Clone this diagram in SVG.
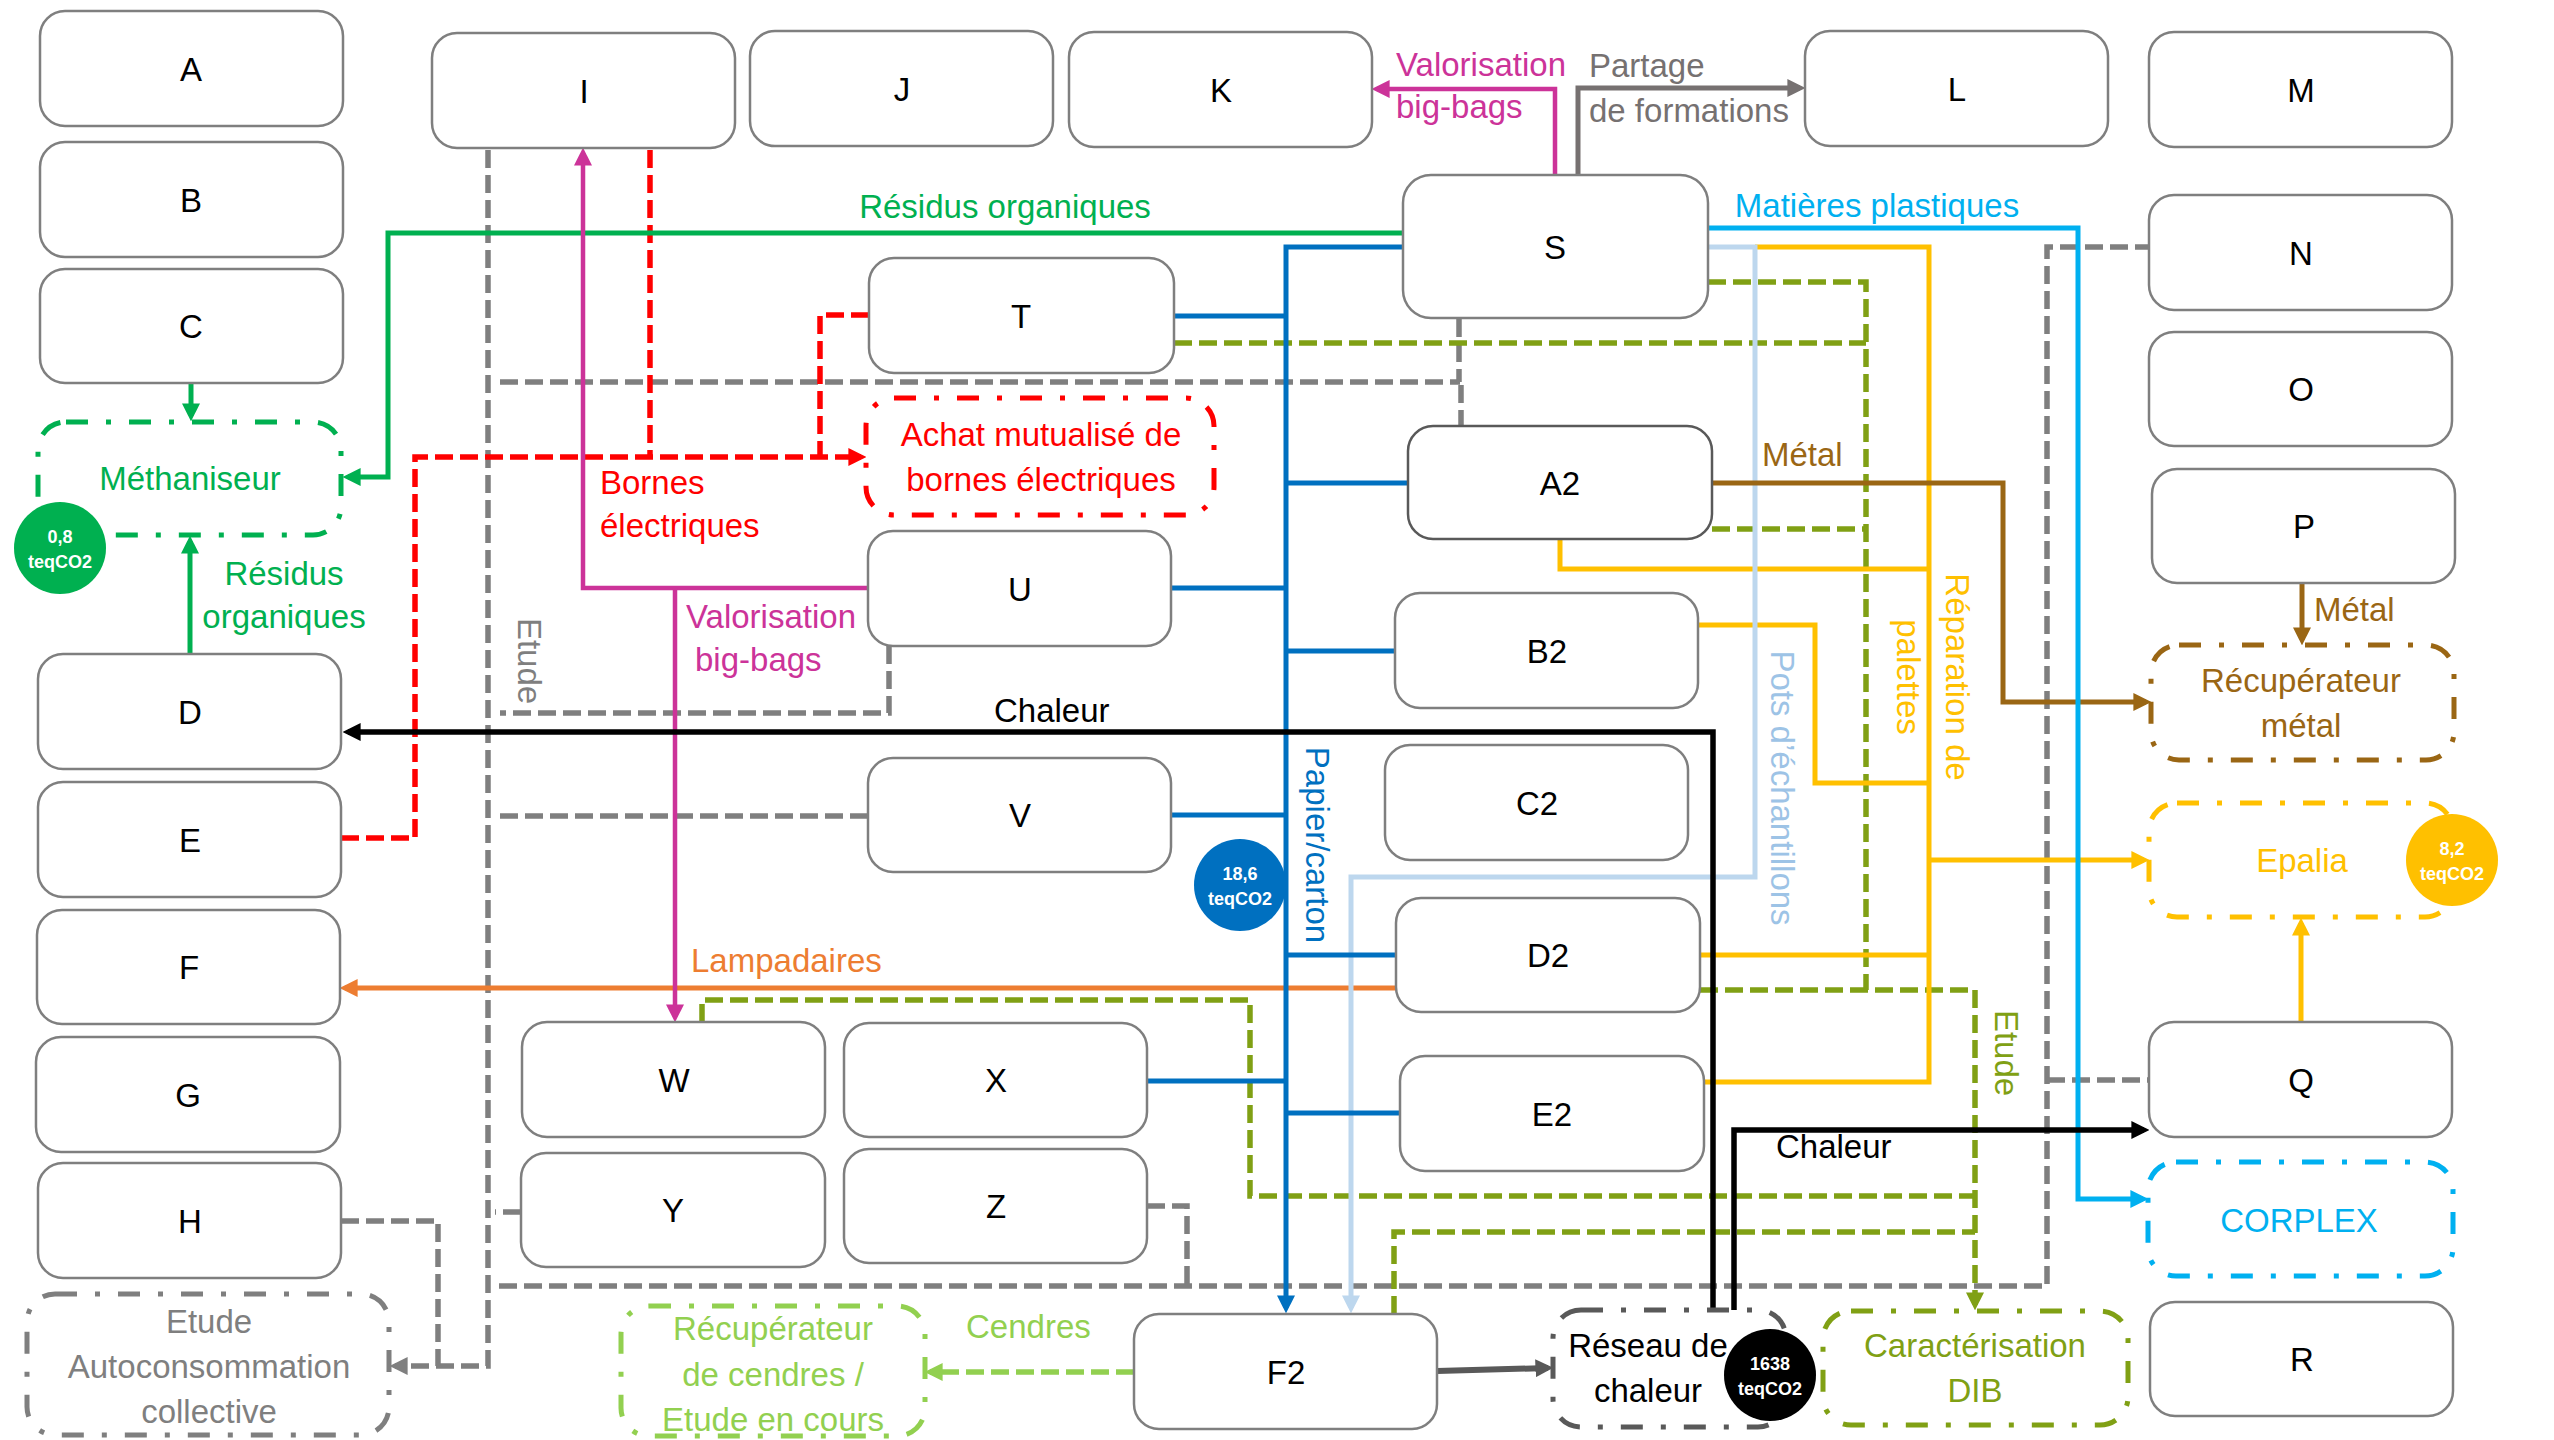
<svg xmlns="http://www.w3.org/2000/svg" width="2554" height="1440" viewBox="0 0 2554 1440">
<style>
text{font-family:"Liberation Sans",Arial,sans-serif;font-size:33px}
.n rect{fill:#fff;stroke:#7F7F7F;stroke-width:2.5}
.n text{text-anchor:middle;fill:#000}
.c{fill:none;stroke-linejoin:miter}
.sol{stroke-width:5}
.dsh{stroke-width:5.5;stroke-dasharray:18 7}
.dd{fill:#fff;stroke-width:5;stroke-dasharray:22 18 5 18}
.mid{text-anchor:middle}
.ct{fill:#fff;font-weight:bold;font-size:18px;text-anchor:middle}
</style>
<defs>
<marker id="mGreen" viewBox="0 0 10 10" refX="7" refY="5" markerWidth="18" markerHeight="18" markerUnits="userSpaceOnUse" orient="auto"><path d="M0,0L10,5L0,10z" fill="#00B050"/></marker>
<marker id="mBlue" viewBox="0 0 10 10" refX="7" refY="5" markerWidth="18" markerHeight="18" markerUnits="userSpaceOnUse" orient="auto"><path d="M0,0L10,5L0,10z" fill="#0070C0"/></marker>
<marker id="mLBlue" viewBox="0 0 10 10" refX="7" refY="5" markerWidth="18" markerHeight="18" markerUnits="userSpaceOnUse" orient="auto"><path d="M0,0L10,5L0,10z" fill="#BDD7EE"/></marker>
<marker id="mYellow" viewBox="0 0 10 10" refX="7" refY="5" markerWidth="18" markerHeight="18" markerUnits="userSpaceOnUse" orient="auto"><path d="M0,0L10,5L0,10z" fill="#FFC000"/></marker>
<marker id="mBrown" viewBox="0 0 10 10" refX="7" refY="5" markerWidth="18" markerHeight="18" markerUnits="userSpaceOnUse" orient="auto"><path d="M0,0L10,5L0,10z" fill="#9A6614"/></marker>
<marker id="mCyan" viewBox="0 0 10 10" refX="7" refY="5" markerWidth="18" markerHeight="18" markerUnits="userSpaceOnUse" orient="auto"><path d="M0,0L10,5L0,10z" fill="#00B0F0"/></marker>
<marker id="mBlack" viewBox="0 0 10 10" refX="7" refY="5" markerWidth="18" markerHeight="18" markerUnits="userSpaceOnUse" orient="auto"><path d="M0,0L10,5L0,10z" fill="#000"/></marker>
<marker id="mDGray" viewBox="0 0 10 10" refX="7" refY="5" markerWidth="18" markerHeight="18" markerUnits="userSpaceOnUse" orient="auto"><path d="M0,0L10,5L0,10z" fill="#595959"/></marker>
<marker id="mLGreen" viewBox="0 0 10 10" refX="7" refY="5" markerWidth="18" markerHeight="18" markerUnits="userSpaceOnUse" orient="auto"><path d="M0,0L10,5L0,10z" fill="#92D050"/></marker>
<marker id="mMag" viewBox="0 0 10 10" refX="7" refY="5" markerWidth="18" markerHeight="18" markerUnits="userSpaceOnUse" orient="auto"><path d="M0,0L10,5L0,10z" fill="#CC3399"/></marker>
<marker id="mPart" viewBox="0 0 10 10" refX="7" refY="5" markerWidth="18" markerHeight="18" markerUnits="userSpaceOnUse" orient="auto"><path d="M0,0L10,5L0,10z" fill="#767171"/></marker>
<marker id="mRed" viewBox="0 0 10 10" refX="7" refY="5" markerWidth="18" markerHeight="18" markerUnits="userSpaceOnUse" orient="auto"><path d="M0,0L10,5L0,10z" fill="#FF0000"/></marker>
<marker id="mGray" viewBox="0 0 10 10" refX="7" refY="5" markerWidth="18" markerHeight="18" markerUnits="userSpaceOnUse" orient="auto"><path d="M0,0L10,5L0,10z" fill="#7F7F7F"/></marker>
<marker id="mOlive" viewBox="0 0 10 10" refX="7" refY="5" markerWidth="18" markerHeight="18" markerUnits="userSpaceOnUse" orient="auto"><path d="M0,0L10,5L0,10z" fill="#80A014"/></marker>
<marker id="mOrange" viewBox="0 0 10 10" refX="7" refY="5" markerWidth="18" markerHeight="18" markerUnits="userSpaceOnUse" orient="auto"><path d="M0,0L10,5L0,10z" fill="#ED7D31"/></marker>
</defs>
<rect width="2554" height="1440" fill="#fff"/>

<g id="connectors">
<!-- gray dashed "Etude" network -->
<g class="c dsh" stroke="#7F7F7F">
<path d="M488,150V1366H395" marker-end="url(#mGray)"/>
<path d="M341,1221H438V1366"/>
<path d="M500,382H1460"/>
<path d="M1459,319V382M1461,385V426"/>
<path d="M889,646V713H500"/>
<path d="M868,816H498"/>
<path d="M521,1212H495"/>
<path d="M499,1286H2047V247H2149"/>
<path d="M2047,1080H2149"/>
<path d="M1147,1206H1187V1286"/>
</g>
<!-- olive dashed -->
<g class="c dsh" stroke="#80A014">
<path d="M1708,282H1866V990"/>
<path d="M1174,343H1866"/>
<path d="M1712,529H1866"/>
<path d="M1700,990H1975V1305" marker-end="url(#mOlive)"/>
<path d="M702,1022V1000H1250V1196H1975"/>
<path d="M1394,1314V1232H1975"/>
</g>
<!-- red dashed -->
<g class="c dsh" stroke="#FF0000">
<path d="M650,150V457"/>
<path d="M341,838H415V457H861" marker-end="url(#mRed)"/>
<path d="M869,315H820V457"/>
</g>
<!-- light green dashed -->
<path class="c dsh" stroke="#92D050" d="M1134,1372H930" marker-end="url(#mLGreen)"/>
<!-- orange -->
<path class="c sol" stroke="#ED7D31" d="M1396,988H345" marker-end="url(#mOrange)"/>
<!-- green solid -->
<g class="c sol" stroke="#00B050">
<path d="M1403,233H388V477H348" marker-end="url(#mGreen)"/>
<path d="M191,383V416" marker-end="url(#mGreen)"/>
<path d="M190,654V541" marker-end="url(#mGreen)"/>
</g>
<!-- magenta -->
<g class="c" stroke="#CC3399" stroke-width="4.5">
<path d="M1555,175V89H1377" marker-end="url(#mMag)"/>
<path d="M868,588H583V153" marker-end="url(#mMag)"/>
<path d="M675,588V1017" marker-end="url(#mMag)"/>
</g>
<!-- partage -->
<path class="c sol" stroke="#767171" d="M1578,175V88H1800" marker-end="url(#mPart)"/>
<!-- yellow -->
<g class="c sol" stroke="#FFC000">
<path d="M1755,247H1929V1082H1704"/>
<path d="M1560,539V569H1929"/>
<path d="M1698,625H1815V783H1929"/>
<path d="M1929,860H2144" marker-end="url(#mYellow)"/>
<path d="M1700,955H1929"/>
<path d="M2301,1022V923" marker-end="url(#mYellow)"/>
</g>
<!-- light blue -->
<path class="c sol" stroke="#BDD7EE" d="M1708,247H1755V877H1351V1308" marker-end="url(#mLBlue)"/>
<!-- blue -->
<g class="c sol" stroke="#0070C0">
<path d="M1403,247H1286V1308" marker-end="url(#mBlue)"/>
<path d="M1174,316H1286M1408,483H1286M1171,588H1286M1395,651H1286M1171,815H1286M1396,955H1286M1147,1081H1286M1400,1113H1286"/>
</g>
<!-- brown -->
<g class="c sol" stroke="#9A6614">
<path d="M1712,483H2003V702H2146" marker-end="url(#mBrown)"/>
<path d="M2302,583V640" marker-end="url(#mBrown)"/>
</g>
<!-- cyan -->
<path class="c sol" stroke="#00B0F0" d="M1708,228H2078V1199H2143" marker-end="url(#mCyan)"/>
<!-- black chaleur -->
<g class="c" stroke="#000" stroke-width="5.5">
<path d="M1713,1310V732H348" marker-end="url(#mBlack)"/>
<path d="M1734,1310V1130H2144" marker-end="url(#mBlack)"/>
</g>
<!-- F2 to reseau -->
<path class="c" stroke="#595959" stroke-width="6" d="M1437,1371L1548,1368" marker-end="url(#mDGray)"/>
</g>

<g id="connector-labels">
<text x="1005" y="218" class="mid" fill="#00B050">Résidus organiques</text>
<text x="1877" y="217" class="mid" fill="#00B0F0">Matières plastiques</text>
<text x="1396" y="76" fill="#CC3399">Valorisation</text>
<text x="1396" y="118" fill="#CC3399">big-bags</text>
<text x="1589" y="77" fill="#767171">Partage</text>
<text x="1589" y="122" fill="#767171">de formations</text>
<text x="600" y="494" fill="#FF0000">Bornes</text>
<text x="600" y="537" fill="#FF0000">électriques</text>
<text x="686" y="628" fill="#CC3399">Valorisation</text>
<text x="695" y="671" fill="#CC3399">big-bags</text>
<text x="284" y="585" class="mid" fill="#00B050">Résidus</text>
<text x="284" y="628" class="mid" fill="#00B050">organiques</text>
<text x="994" y="722" fill="#000">Chaleur</text>
<text x="1776" y="1158" fill="#000">Chaleur</text>
<text x="1762" y="466" fill="#9A6614">Métal</text>
<text x="2314" y="621" fill="#9A6614">Métal</text>
<text x="691" y="972" fill="#ED7D31">Lampadaires</text>
<text x="966" y="1338" fill="#92D050">Cendres</text>
<text class="mid" fill="#7F7F7F" transform="translate(518,661) rotate(90)">Etude</text>
<text class="mid" fill="#0070C0" transform="translate(1306,845) rotate(90)">Papier/carton</text>
<text class="mid" fill="#9DC3E6" font-size="34" transform="translate(1771,788) rotate(90)">Pots d’échantillons</text>
<text class="mid" fill="#FFC000" transform="translate(1946,677) rotate(90)">Réparation de</text>
<text class="mid" fill="#FFC000" transform="translate(1897,677) rotate(90)">palettes</text>
<text class="mid" fill="#80A014" transform="translate(1995,1053) rotate(90)">Etude</text>
</g>

<g id="node-A" class="n"><rect x="40" y="11" width="303" height="115" rx="25"/><text x="191" y="81">A</text></g>
<g id="node-B" class="n"><rect x="40" y="142" width="303" height="115" rx="25"/><text x="191" y="212">B</text></g>
<g id="node-C" class="n"><rect x="40" y="269" width="303" height="114" rx="25"/><text x="191" y="338">C</text></g>
<g id="node-D" class="n"><rect x="38" y="654" width="303" height="115" rx="25"/><text x="190" y="724">D</text></g>
<g id="node-E" class="n"><rect x="38" y="782" width="303" height="115" rx="25"/><text x="190" y="852">E</text></g>
<g id="node-F" class="n"><rect x="37" y="910" width="303" height="114" rx="25"/><text x="189" y="979">F</text></g>
<g id="node-G" class="n"><rect x="36" y="1037" width="304" height="115" rx="25"/><text x="188" y="1107">G</text></g>
<g id="node-H" class="n"><rect x="38" y="1163" width="303" height="115" rx="25"/><text x="190" y="1233">H</text></g>
<g id="node-I" class="n"><rect x="432" y="33" width="303" height="115" rx="25"/><text x="584" y="103">I</text></g>
<g id="node-J" class="n"><rect x="750" y="31" width="303" height="115" rx="25"/><text x="902" y="101">J</text></g>
<g id="node-K" class="n"><rect x="1069" y="32" width="303" height="115" rx="25"/><text x="1221" y="102">K</text></g>
<g id="node-L" class="n"><rect x="1805" y="31" width="303" height="115" rx="25"/><text x="1957" y="101">L</text></g>
<g id="node-M" class="n"><rect x="2149" y="32" width="303" height="115" rx="25"/><text x="2301" y="102">M</text></g>
<g id="node-N" class="n"><rect x="2149" y="195" width="303" height="115" rx="25"/><text x="2301" y="265">N</text></g>
<g id="node-O" class="n"><rect x="2149" y="332" width="303" height="114" rx="25"/><text x="2301" y="401">O</text></g>
<g id="node-P" class="n"><rect x="2152" y="469" width="303" height="114" rx="25"/><text x="2304" y="538">P</text></g>
<g id="node-Q" class="n"><rect x="2149" y="1022" width="303" height="115" rx="25"/><text x="2301" y="1092">Q</text></g>
<g id="node-R" class="n"><rect x="2150" y="1302" width="303" height="114" rx="25"/><text x="2302" y="1371">R</text></g>
<g id="node-S" class="n"><rect x="1403" y="175" width="305" height="143" rx="28"/><text x="1555" y="259">S</text></g>
<g id="node-T" class="n"><rect x="869" y="258" width="305" height="115" rx="25"/><text x="1021" y="328">T</text></g>
<g id="node-U" class="n"><rect x="868" y="531" width="303" height="115" rx="25"/><text x="1020" y="601">U</text></g>
<g id="node-V" class="n"><rect x="868" y="758" width="303" height="114" rx="25"/><text x="1020" y="827">V</text></g>
<g id="node-A2" class="n"><rect x="1408" y="426" width="304" height="113" rx="25" style="stroke:#595959"/><text x="1560" y="495">A2</text></g>
<g id="node-B2" class="n"><rect x="1395" y="593" width="303" height="115" rx="25"/><text x="1547" y="663">B2</text></g>
<g id="node-C2" class="n"><rect x="1385" y="745" width="303" height="115" rx="25"/><text x="1537" y="815">C2</text></g>
<g id="node-D2" class="n"><rect x="1396" y="898" width="304" height="114" rx="25"/><text x="1548" y="967">D2</text></g>
<g id="node-E2" class="n"><rect x="1400" y="1056" width="304" height="115" rx="25"/><text x="1552" y="1126">E2</text></g>
<g id="node-F2" class="n"><rect x="1134" y="1314" width="303" height="115" rx="25"/><text x="1286" y="1384">F2</text></g>
<g id="node-W" class="n"><rect x="522" y="1022" width="303" height="115" rx="25"/><text x="674" y="1092">W</text></g>
<g id="node-X" class="n"><rect x="844" y="1023" width="303" height="114" rx="25"/><text x="996" y="1092">X</text></g>
<g id="node-Y" class="n"><rect x="521" y="1153" width="304" height="114" rx="25"/><text x="673" y="1222">Y</text></g>
<g id="node-Z" class="n"><rect x="844" y="1149" width="303" height="114" rx="25"/><text x="996" y="1218">Z</text></g>

<g id="node-methaniseur"><rect class="dd" x="38" y="422" width="303" height="113" rx="28" stroke="#00B050"/><text x="190" y="490" class="mid" fill="#00B050">Méthaniseur</text>
<circle cx="60" cy="548" r="46" fill="#00B050"/><text class="ct" x="60" y="543">0,8</text><text class="ct" x="60" y="568">teqCO2</text></g>
<g id="node-achat"><rect class="dd" x="866" y="398" width="348" height="117" rx="28" stroke="#FF0000"/><text x="1041" y="446" class="mid" fill="#FF0000">Achat mutualisé de</text><text x="1041" y="491" class="mid" fill="#FF0000">bornes électriques</text></g>
<g id="node-recup-metal"><rect class="dd" x="2151" y="645" width="303" height="115" rx="28" stroke="#9A6614"/><text x="2301" y="692" class="mid" fill="#9A6614">Récupérateur</text><text x="2301" y="737" class="mid" fill="#9A6614">métal</text></g>
<g id="node-epalia"><rect class="dd" x="2149" y="803" width="304" height="114" rx="28" stroke="#FFC000"/><text x="2302" y="872" class="mid" fill="#FFC000">Epalia</text>
<circle cx="2452" cy="860" r="46" fill="#FFC000"/><text class="ct" x="2452" y="855">8,2</text><text class="ct" x="2452" y="880">teqCO2</text></g>
<g id="node-corplex"><rect class="dd" x="2148" y="1162" width="305" height="114" rx="28" stroke="#00B0F0"/><text x="2299" y="1232" class="mid" fill="#00B0F0">CORPLEX</text></g>
<g id="node-dib"><rect class="dd" x="1823" y="1311" width="305" height="114" rx="28" stroke="#80A014"/><text x="1975" y="1357" class="mid" fill="#80A014">Caractérisation</text><text x="1975" y="1402" class="mid" fill="#80A014">DIB</text></g>
<g id="node-reseau"><rect class="dd" x="1553" y="1310" width="233" height="117" rx="28" stroke="#595959"/><text x="1648" y="1357" class="mid" fill="#000">Réseau de</text><text x="1648" y="1402" class="mid" fill="#000">chaleur</text>
<circle cx="1770" cy="1375" r="46" fill="#000"/><text class="ct" x="1770" y="1370">1638</text><text class="ct" x="1770" y="1395">teqCO2</text></g>
<g id="node-cendres"><rect class="dd" x="621" y="1306" width="304" height="130" rx="28" stroke="#92D050"/><text x="773" y="1340" class="mid" fill="#92D050">Récupérateur</text><text x="773" y="1386" class="mid" fill="#92D050">de cendres /</text><text x="773" y="1431" class="mid" fill="#92D050">Etude en cours</text></g>
<g id="node-etude-auto"><rect class="dd" x="27" y="1294" width="362" height="141" rx="28" stroke="#7F7F7F"/><text x="209" y="1333" class="mid" fill="#7F7F7F">Etude</text><text x="209" y="1378" class="mid" fill="#7F7F7F">Autoconsommation</text><text x="209" y="1423" class="mid" fill="#7F7F7F">collective</text></g>
<g id="circle-papier"><circle cx="1240" cy="885" r="46" fill="#0070C0"/><text class="ct" x="1240" y="880">18,6</text><text class="ct" x="1240" y="905">teqCO2</text></g>
</svg>
